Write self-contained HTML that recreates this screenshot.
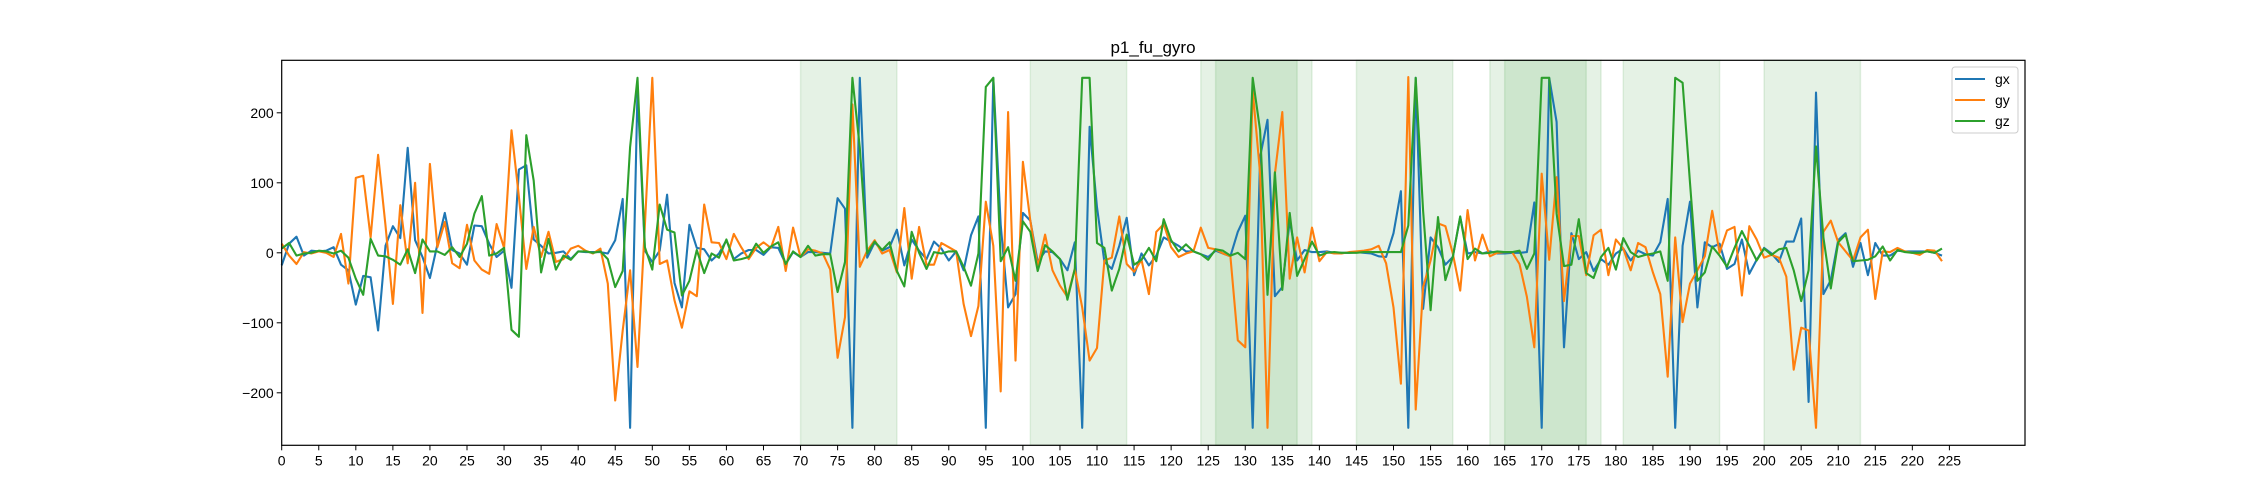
<!DOCTYPE html>
<html><head><meta charset="utf-8"><style>
html,body{margin:0;padding:0;background:#fff;}
svg{display:block;font-family:"Liberation Sans","DejaVu Sans",sans-serif;}
</style></head><body>
<svg id="chart" width="2250" height="500" viewBox="0 0 2250 500">
<rect width="2250" height="500" fill="#fff"/>
<text x="1153" y="53" font-size="17" text-anchor="middle">p1_fu_gyro</text>
<g id="spans"></g><g id="grid"></g><g id="lines"></g>
<rect x="281.7" y="60.3" width="1743.3" height="385" fill="none" stroke="#000" stroke-width="1.2"/>
<g>
<rect x="1952" y="67" width="66" height="66" rx="3" fill="#fff" fill-opacity="0.8" stroke="#ccc"/>
<line x1="1955" y1="79" x2="1985" y2="79" stroke="#1f77b4" stroke-width="2"/>
<text x="1995" y="84" font-size="14">gx</text>
<line x1="1955" y1="100" x2="1985" y2="100" stroke="#ff7f0e" stroke-width="2"/>
<text x="1995" y="105" font-size="14">gy</text>
<line x1="1955" y1="121" x2="1985" y2="121" stroke="#2ca02c" stroke-width="2"/>
<text x="1995" y="126" font-size="14">gz</text>
</g>
</svg>
<script>
const gx=[-18,13,23,-4,3,2,3,8,-17,-25,-74,-33,-35,-111,10,38,21,150,18,-6,-36,12,57,4,-1,-17,39,38,13,-6,3,-50,119,125,19,10,-1,0,2,-9,2,1,1,1,-1,18,77,-250,232,
3,-13,3,83,-43,-78,40,7,5,-11,-1,18,-9,-1,4,4,-3,8,7,-16,1,-6,1,1,0,-1,78,63,-250,250,-7,15,3,8,33,-18,19,3,-9,16,6,-11,2,-25,25,52,-250,250,40,-78,-59,
57,46,-13,2,1,-9,-25,15,-250,180,65,-13,-23,10,50,-32,-1,-18,-4,22,16,10,2,2,-2,-6,3,-1,-5,30,53,-250,137,190,-62,-49,46,-11,4,1,1,2,0,0,0,
1,0,-1,-5,-6,28,88,-250,250,-80,22,8,-17,-6,51,-1,1,-1,2,-1,-1,0,0,1,72,-250,250,187,-135,28,-9,1,-26,-9,-17,-1,6,-11,3,-2,-4,15,77,-250,10,73,-78,15,8,13,-23,
-16,19,-30,-10,7,-1,-13,16,16,49,-213,229,-59,-39,18,28,-20,14,-32,14,-4,-4,3,2,2,2,2,0,-4];
const gy=[13,-4,-16,1,-1,2,0,-6,27,-44,107,110,22,140,39,-73,68,-15,100,-86,127,8,44,-15,-22,40,-11,-24,-30,41,7,175,80,-23,37,-6,30,-13,-9,6,10,3,-1,6,-44,-211,-111,-25,-163,
40,250,-16,-11,-68,-107,-55,-62,69,15,14,-9,27,8,-9,7,15,7,37,-26,36,-6,5,3,-1,-24,-150,-92,212,-20,3,18,-1,4,-28,64,-37,37,-17,-17,14,8,2,-73,-119,-76,73,
10,-198,201,-154,130,46,-20,26,-25,-47,-63,-23,-78,-154,-136,-11,-7,52,-16,-27,-10,-59,30,41,8,-6,-1,2,36,7,5,-1,-5,-125,-135,232,113,-250,113,201,-37,22,-28,36,-12,1,-1,-1,1,
2,3,5,10,-15,-78,-187,251,-224,-49,-11,42,38,-1,-54,61,-11,26,-5,0,1,1,-16,-63,-135,113,-10,108,-69,24,24,-32,25,33,-32,19,6,-25,14,8,-28,-59,-177,22,-99,-44,-25,-5,60,0,32,
37,-61,38,19,-7,-3,-7,-34,-167,-107,-111,-250,30,46,15,2,-11,22,33,-66,2,1,7,2,0,-3,4,3,-12];
const gz=[6,14,-4,-1,0,3,2,-1,3,-7,-37,-60,20,-4,-5,-10,-17,5,-29,19,2,2,-3,8,-6,13,56,81,-4,-1,7,-110,-120,168,103,-28,20,-24,-4,-10,2,2,0,2,-9,-49,-26,151,250,
8,-24,69,33,29,-61,-40,4,-29,-1,-7,19,-11,-9,-6,13,0,9,15,-16,2,-6,10,-4,-2,-2,-56,-13,250,150,-1,16,4,15,-26,-48,30,0,-23,1,-1,2,2,-20,-47,-1,237,250,-12,8,
-40,45,30,-26,11,2,-9,-67,-23,250,250,14,7,-54,-23,26,-17,-10,7,-12,48,18,2,12,2,-2,-10,5,3,-4,0,-9,250,175,-60,115,-53,57,-33,-9,16,-4,0,1,0,0,0,
1,1,1,1,1,1,39,250,60,-82,51,-39,-6,52,-9,6,-1,0,2,1,1,3,-23,-1,250,250,56,-19,-17,48,-29,-36,-6,7,-24,21,1,-6,-3,-1,2,-40,250,243,100,-40,-28,9,-4,-20,
7,31,10,-11,6,-3,5,7,-25,-69,-25,152,22,-51,15,26,-12,-11,-10,-5,9,-11,4,1,0,0,2,0,6];
const spanStarts=[70,101,124,126,145,163,165,181,200];
const spanEnds=[83,114,139,137,158,178,176,194,213];
const xTicks=[0,5,10,15,20,25,30,35,40,45,50,55,60,65,70,75,80,85,90,95,100,105,110,115,120,125,130,135,140,145,150,155,160,165,170,175,180,185,190,195,200,205,210,215,220,225];
const yTicks=[-200,-100,0,100,200];

const NS='http://www.w3.org/2000/svg';
const L=281.7,R=2025,T=60.3,B=445.3,XMIN=0,XMAX=235.2,YMIN=-275,YMAX=275;
function sx(v){return L+(v-XMIN)/(XMAX-XMIN)*(R-L);}
function sy(v){return B-(v-YMIN)/(YMAX-YMIN)*(B-T);}
function mk(tag,attrs,parent){const e=document.createElementNS(NS,tag);for(const k in attrs)e.setAttribute(k,attrs[k]);parent.appendChild(e);return e;}
const spans=document.getElementById('spans'),grid=document.getElementById('grid'),lines=document.getElementById('lines');
for(let i=0;i<spanStarts.length;i++){
  const r=mk('rect',{x:sx(spanStarts[i]),y:T,width:sx(spanEnds[i])-sx(spanStarts[i]),height:B-T,fill:'green','fill-opacity':0.1,stroke:'green','stroke-opacity':0.1,'stroke-width':1.5},spans);
  
  
}
xTicks.forEach(v=>{
  const l=mk('line',{x1:sx(v),x2:sx(v),y1:B,y2:B+5,stroke:'#000','stroke-width':1},grid);
  
  
  const t=mk('text',{x:sx(v),y:B+20,'font-size':14,'text-anchor':'middle'},grid);t.textContent=v;
  
  
});
yTicks.forEach(v=>{
  const l=mk('line',{x1:L-5,x2:L,y1:sy(v),y2:sy(v),stroke:'#000','stroke-width':1},grid);
  
  
  const t=mk('text',{x:L-8,y:sy(v)+5,'font-size':14,'text-anchor':'end'},grid);t.textContent=v<0?'\u2212'+(-v):v;
  
  
});
[[gx,'#1f77b4','gx-line'],[gy,'#ff7f0e','gy-line'],[gz,'#2ca02c','gz-line']].forEach(([d,c,n])=>{
  const p=mk('polyline',{points:d.map((v,i)=>sx(i).toFixed(1)+','+sy(v).toFixed(1)).join(' '),fill:'none',stroke:c,'stroke-width':2.1,'stroke-linejoin':'round'},lines);
  
  
});
</script>
</body></html>
